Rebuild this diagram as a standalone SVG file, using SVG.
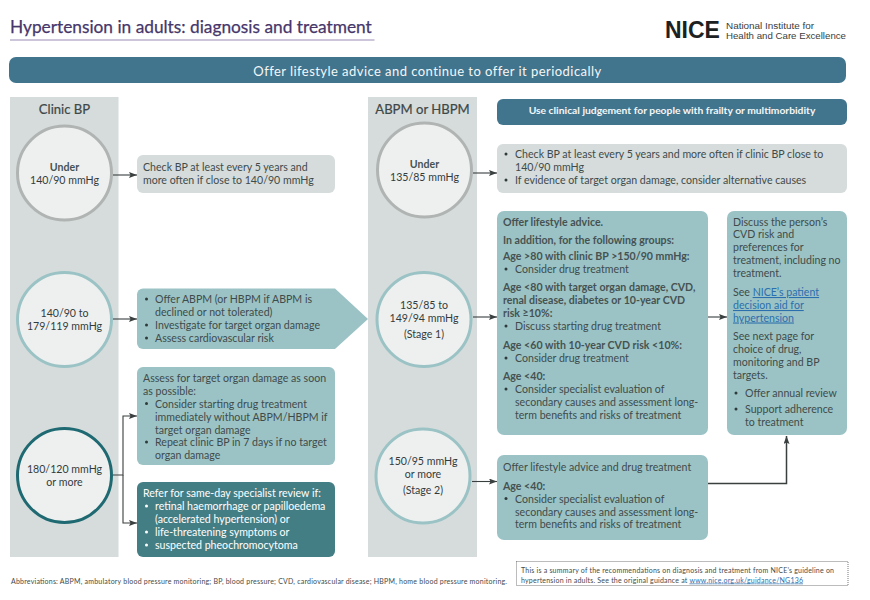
<svg xmlns="http://www.w3.org/2000/svg" width="870" height="600" viewBox="0 0 870 600">
<defs>
<marker id="ah" markerUnits="userSpaceOnUse" markerWidth="8" markerHeight="6" refX="8" refY="3" orient="auto"><path d="M0 0L8 3L0 6L1.5 3Z" fill="#3a3f3f"/></marker>
</defs>
<style>
text{font-family:"Lato","Liberation Sans",sans-serif;font-size:10.6px;fill:#3f4b4b}
.c{text-anchor:middle;fill:#333c3c}
.h{font-size:13.1px;text-anchor:middle;fill:#3f4747;stroke:#3f4747;stroke-width:0.200}
.b{font-weight:700;fill:#465252}
.w,.w tspan{fill:#fff}
.t{fill:#f4f7f8}
.l{fill:#2c6fae;text-decoration:underline}
.s{font-size:7px}
.gr{fill:#d5dcdb}.tl{fill:#9bc3c5}.dk{fill:#447e85}.bl{fill:#41748d}
.ci{fill:#eef0f0;stroke-width:3}
.con{fill:none;stroke:#3a3f3f;stroke-width:1.1}
.bu{fill:#2f3a3a}
.lg{font-family:"Liberation Sans",sans-serif;font-size:9.6px;fill:#3a4040}
</style>
<rect width="870" height="600" fill="#fff"/>

<g id="header">
<text x="10" y="32.500" style="font-size:17.300px;fill:#46366a;stroke:#46366a;stroke-width:0.250">Hypertension in adults: diagnosis and treatment</text>
<line x1="10" y1="40" x2="374.500" y2="40" stroke="#9c8bb5" stroke-width="1.200"/>
<text x="665" y="38" style="font-family:'Liberation Sans',sans-serif;font-size:23px;font-weight:700;fill:#1c2222">NICE</text>
<text x="726" y="29" textLength="88" lengthAdjust="spacingAndGlyphs" class="lg">National Institute for</text>
<text x="726" y="38.500" textLength="120" lengthAdjust="spacingAndGlyphs" class="lg">Health and Care Excellence</text>
</g>

<g id="banner">
<rect x="9" y="57" width="837" height="26" rx="7" class="bl"/>
<text x="427.500" y="75.500" text-anchor="middle" class="t" style="font-size:13px;letter-spacing:0.450px">Offer lifestyle advice and continue to offer it periodically</text>
</g>

<g id="panel-clinic">
<rect x="10" y="97" width="108.500" height="460" class="gr"/>
<text x="64.500" y="114" class="h">Clinic BP</text>
</g>
<g id="panel-abpm">
<rect x="368" y="97" width="109" height="460" class="gr"/>
<text x="422.500" y="114" class="h">ABPM or HBPM</text>
</g>

<g id="connectors">
<path class="con" d="M113 175H137" marker-end="url(#ah)"/>
<path class="con" d="M113 319H137" marker-end="url(#ah)"/>
<path class="con" d="M113 475H123V416H137" marker-end="url(#ah)"/>
<path class="con" d="M123 475V523H137" marker-end="url(#ah)"/>
<path class="con" d="M473 173H497" marker-end="url(#ah)"/>
<path class="con" d="M473 317H497" marker-end="url(#ah)"/>
<path class="con" d="M708 317H727" marker-end="url(#ah)"/>
<path class="con" d="M472 481.500H497" marker-end="url(#ah)"/>
<path class="con" style="stroke-width:1.500" d="M708 483.500H786.500V436" marker-end="url(#ah)"/>
</g>

<g id="c-under-140">
<circle cx="64.500" cy="173" r="47" class="ci" stroke="#b0b4b3"/>
<text x="64.500" y="170.500" class="c b">Under</text>
<text x="64.500" y="183.500" class="c">140/90 mmHg</text>
</g>
<g id="c-140-179">
<circle cx="64.500" cy="319.500" r="47" class="ci" stroke="#9bc3c5"/>
<text x="64.500" y="317" class="c">140/90 to</text>
<text x="64.500" y="330" class="c">179/119 mmHg</text>
</g>
<g id="c-180">
<circle cx="64.500" cy="475.500" r="47" class="ci" stroke="#1f6a72"/>
<text x="64.500" y="473" class="c">180/120 mmHg</text>
<text x="64.500" y="486" class="c">or more</text>
</g>
<g id="c-under-135">
<circle cx="424.500" cy="170" r="47" class="ci" stroke="#b0b4b3"/>
<text x="424.500" y="167.500" class="c b">Under</text>
<text x="424.500" y="180.500" class="c">135/85 mmHg</text>
</g>
<g id="c-stage1">
<circle cx="424" cy="319.500" r="47" class="ci" stroke="#9bc3c5"/>
<text x="424" y="309" class="c">135/85 to</text>
<text x="424" y="322" class="c">149/94 mmHg</text>
<text x="424" y="338" class="c">(Stage 1)</text>
</g>
<g id="c-stage2">
<circle cx="423" cy="476" r="47" class="ci" stroke="#9bc3c5"/>
<text x="423" y="465" class="c">150/95 mmHg</text>
<text x="423" y="478" class="c">or more</text>
<text x="423" y="494" class="c">(Stage 2)</text>
</g>

<g id="box-check-clinic">
<rect x="137" y="155" width="198" height="38" rx="6" class="gr"/>
<text x="143" y="170.500">Check BP at least every 5 years and</text>
<text x="143" y="183.500">more often if close to 140/90 mmHg</text>
</g>

<g id="box-offer-abpm">
<path d="M143 288.500H335L368 319L335 349H143a6 6 0 0 1-6-6V294.500a6 6 0 0 1 6-6Z" class="tl"/>
<circle cx="146.500" cy="299" r="1.500" class="bu"/>
<text x="155" y="303">Offer ABPM (or HBPM if ABPM is</text>
<text x="155" y="316">declined or not tolerated)</text>
<circle cx="146.500" cy="325" r="1.500" class="bu"/>
<text x="155" y="329">Investigate for target organ damage</text>
<circle cx="146.500" cy="338" r="1.500" class="bu"/>
<text x="155" y="341.500">Assess cardiovascular risk</text>
</g>

<g id="box-assess">
<rect x="137" y="367" width="198" height="98" rx="6" class="tl"/>
<text x="143" y="382">Assess for target organ damage as soon</text>
<text x="143" y="395">as possible:</text>
<circle cx="146.500" cy="403.500" r="1.500" class="bu"/>
<text x="155" y="407.500">Consider starting drug treatment</text>
<text x="155" y="420.500">immediately without ABPM/HBPM if</text>
<text x="155" y="433.500">target organ damage</text>
<circle cx="146.500" cy="442" r="1.500" class="bu"/>
<text x="155" y="446">Repeat clinic BP in 7 days if no target</text>
<text x="155" y="459">organ damage</text>
</g>

<g id="box-refer">
<rect x="137" y="482" width="198" height="75" rx="6" class="dk"/>
<text class="w" x="143" y="497">Refer for same-day specialist review if:</text>
<circle cx="146.500" cy="506" r="1.500" fill="#fff"/>
<text class="w" x="155" y="510">retinal haemorrhage or papilloedema</text>
<text class="w" x="155" y="523">(accelerated hypertension) or</text>
<circle cx="146.500" cy="532" r="1.500" fill="#fff"/>
<text class="w" x="155" y="536">life-threatening symptoms or</text>
<circle cx="146.500" cy="545" r="1.500" fill="#fff"/>
<text class="w" x="155" y="549">suspected pheochromocytoma</text>
</g>

<g id="box-judgement">
<rect x="497" y="99" width="350" height="26" rx="6" class="bl"/>
<text x="672" y="114" text-anchor="middle" class="t" style="font-size:10.300px;font-weight:700">Use clinical judgement for people with frailty or multimorbidity</text>
</g>

<g id="box-check-abpm">
<rect x="497" y="144" width="350" height="49" rx="6" class="gr"/>
<circle cx="506" cy="154" r="1.500" class="bu"/>
<text x="515" y="158">Check BP at least every 5 years and more often if clinic BP close to</text>
<text x="515" y="171">140/90 mmHg</text>
<circle cx="506" cy="180" r="1.500" class="bu"/>
<text x="515" y="184">If evidence of target organ damage, consider alternative causes</text>
</g>

<g id="box-stage1">
<rect x="497" y="211" width="211" height="224" rx="7" class="tl"/>
<text x="503" y="225.500" class="b">Offer lifestyle advice.</text>
<text x="503" y="243.500" class="b">In addition, for the following groups:</text>
<text x="503" y="259.500" class="b">Age &gt;80 with clinic BP &gt;150/90 mmHg:</text>
<circle cx="506" cy="269" r="1.500" class="bu"/>
<text x="515" y="272.500">Consider drug treatment</text>
<text x="503" y="290.500" class="b">Age &lt;80 with target organ damage, CVD,</text>
<text x="503" y="303.500" class="b">renal disease, diabetes or 10-year CVD</text>
<text x="503" y="316.500" class="b">risk ≥10%:</text>
<circle cx="506" cy="326" r="1.500" class="bu"/>
<text x="515" y="329.500">Discuss starting drug treatment</text>
<text x="503" y="348.500" class="b">Age &lt;60 with 10-year CVD risk &lt;10%:</text>
<circle cx="506" cy="358" r="1.500" class="bu"/>
<text x="515" y="361.500">Consider drug treatment</text>
<text x="503" y="379.500" class="b">Age &lt;40:</text>
<circle cx="506" cy="389" r="1.500" class="bu"/>
<text x="515" y="392.500">Consider specialist evaluation of</text>
<text x="515" y="405.500">secondary causes and assessment long-</text>
<text x="515" y="418.500">term benefits and risks of treatment</text>
</g>

<g id="box-discuss">
<rect x="727" y="211" width="120" height="224" rx="7" class="tl"/>
<text x="733" y="225.500">Discuss the person’s</text>
<text x="733" y="238">CVD risk and</text>
<text x="733" y="251">preferences for</text>
<text x="733" y="264">treatment, including no</text>
<text x="733" y="277">treatment.</text>
<text x="733" y="296">See <tspan class="l">NICE’s patient</tspan></text>
<text x="733" y="309" class="l">decision aid for</text>
<text x="733" y="321.500" class="l">hypertension</text>
<text x="733" y="339.500">See next page for</text>
<text x="733" y="352.500">choice of drug,</text>
<text x="733" y="365.500">monitoring and BP</text>
<text x="733" y="378.500">targets.</text>
<circle cx="736" cy="393" r="1.500" class="bu"/>
<text x="745" y="397">Offer annual review</text>
<circle cx="736" cy="409" r="1.500" class="bu"/>
<text x="745" y="413">Support adherence</text>
<text x="745" y="425.500">to treatment</text>
</g>

<g id="box-stage2">
<rect x="497" y="455" width="211" height="85" rx="7" class="tl"/>
<text x="503" y="471">Offer lifestyle advice and drug treatment</text>
<text x="503" y="489.500" class="b">Age &lt;40:</text>
<circle cx="506" cy="498.500" r="1.500" class="bu"/>
<text x="515" y="502.500">Consider specialist evaluation of</text>
<text x="515" y="515.500">secondary causes and assessment long-</text>
<text x="515" y="528">term benefits and risks of treatment</text>
</g>

<g id="footer">
<text x="11" y="584" class="s" textLength="496">Abbreviations: ABPM, ambulatory blood pressure monitoring; BP, blood pressure; CVD, cardiovascular disease; HBPM, home blood pressure monitoring.</text>
<rect x="516.500" y="561.500" width="331.500" height="24" fill="none" stroke="#555" stroke-width="0.800" stroke-dasharray="1 1"/>
<text x="521" y="572.500" class="s" textLength="313">This is a summary of the recommendations on diagnosis and treatment from NICE’s guideline on</text>
<text x="521" y="582.500" class="s" textLength="282">hypertension in adults. See the original guidance at <tspan class="l">www.nice.org.uk/guidance/NG136</tspan></text>
</g>
</svg>
